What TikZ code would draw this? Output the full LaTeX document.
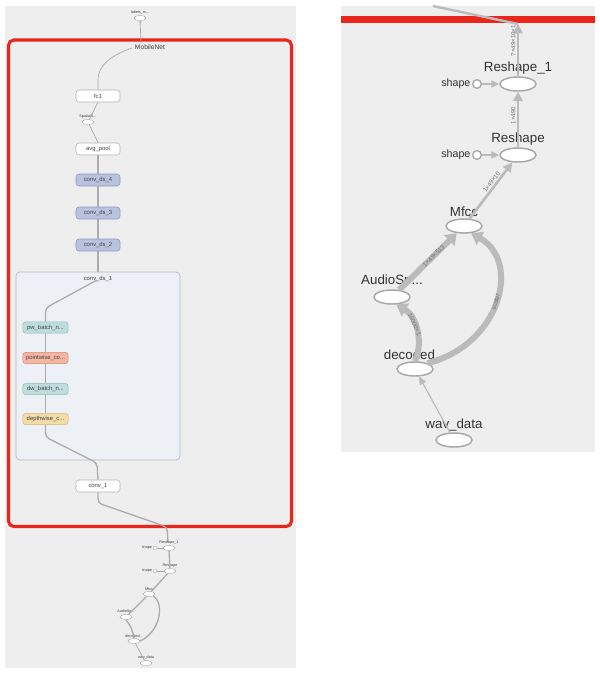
\documentclass[tikz,border=0pt]{standalone}
\usepackage{fontspec}
\setmainfont{Liberation Sans}
\usetikzlibrary{arrows.meta,shapes.geometric,positioning}

\definecolor{panelgray}{HTML}{EEEEEE}
\definecolor{redframe}{HTML}{E8261B}
\definecolor{edgegray}{HTML}{BBBBBB}
\definecolor{opborder}{HTML}{A8A8A8}
\definecolor{metafill}{HTML}{B9C3DE}
\definecolor{metadraw}{HTML}{8D99C2}
\definecolor{bnfill}{HTML}{BEDDDC}
\definecolor{bndraw}{HTML}{8FBFBD}
\definecolor{convfill}{HTML}{F5B6A1}
\definecolor{convdraw}{HTML}{D98B72}
\definecolor{dwfill}{HTML}{F3DCA8}
\definecolor{dwdraw}{HTML}{D4B774}
\definecolor{groupfill}{HTML}{EDF1F6}
\definecolor{groupdraw}{HTML}{B3B8C0}

\begin{document}
\begin{tikzpicture}[x=0.75pt, y=-0.75pt,
	boxtext/.style={font=\fontsize{4.4}{5}\selectfont, text=black!75, inner sep=0.5pt},
	tbox/.style={boxtext, rounded corners=2.2pt, minimum width=33pt, minimum height=9pt, line width=0.4pt},
	plainbox/.style={tbox, fill=white, draw=gray!60},
	metabox/.style={tbox, fill=metafill, draw=metadraw},
	subbox/.style={tbox, minimum width=34pt, minimum height=8.5pt},
	tinyop/.style={ellipse, draw=gray!65, fill=white, line width=0.3pt, minimum width=9pt, minimum height=3.7pt, inner sep=0pt},
	tinydot/.style={circle, draw=gray!65, fill=white, line width=0.3pt, minimum size=3pt, inner sep=0pt},
	tinylbl/.style={font=\fontsize{2.8}{3}\selectfont, text=black!75, inner sep=0.4pt},
	ledge/.style={draw=gray!70, line width=0.5pt},
	lthick/.style={draw=gray!65, line width=1pt},
	bigop/.style={ellipse, draw=opborder, fill=white, line width=1.1pt, minimum width=27pt, minimum height=10.5pt, inner sep=0pt},
	shapeop/.style={circle, draw=opborder, fill=white, line width=1pt, minimum size=6.5pt, inner sep=0pt},
	biglbl/.style={font=\fontsize{10}{12}\selectfont, text=black!80, inner sep=1pt},
	shapelbl/.style={font=\fontsize{8}{10}\selectfont, text=black!80, inner sep=1pt},
	thinedge/.style={draw=edgegray, line width=0.9pt, -{Triangle[width=5.5pt,length=6pt]}},
	midedge/.style={draw=edgegray, line width=2pt, -{Triangle[width=7pt,length=7pt]}},
	thickedge/.style={draw=edgegray, line width=4.5pt, -{Triangle[width=11pt,length=8pt]}},
	elbl/.style={font=\fontsize{4.6}{5}\selectfont, text=black!55, sloped, inner sep=1pt}]

	\useasboundingbox (0,0) rectangle (600,676);
	\fill[white] (0,0) rectangle (600,676);

	% left panel: whole graph
	\fill[panelgray] (5,6) rectangle (296,668);
	\draw[redframe, line width=2.3pt, rounded corners=4pt] (8.5,40) rectangle (291.5,526.5);
	\node[boxtext, font=\fontsize{5}{6}\selectfont] (mobilenet) at (150,47) {MobileNet};
	\coordinate (mnout) at (141,43);
	\coordinate (mnin) at (132,48);
	\node[tinyop, label={[tinylbl]above:labels\_m...}] (labelsop) at (140,18) {};

	\node[plainbox] (fcone) at (98,96) {fc1};
	\node[tinyop, label={[tinylbl]above:SpatialS...}] (squeeze) at (88,122) {};
	\node[plainbox] (avgpool) at (98,149) {avg\_pool};
	\foreach \n/\y in {4/180, 3/213, 2/245} {
		\node[metabox] (convds\n) at (98,\y) {conv\_ds\_\n};
	}

	% conv_ds_1 expanded
	\draw[fill=groupfill, draw=groupdraw, line width=0.5pt, rounded corners=3pt] (16,272) rectangle (180,460);
	\node[boxtext] (grouplbl) at (98,279) {conv\_ds\_1};
	\node[subbox, fill=bnfill, draw=bndraw] (pwbatch) at (45.5,327.5) {pw\_batch\_n...};
	\node[subbox, fill=convfill, draw=convdraw] (pointwise) at (45.5,358) {pointwise\_co...};
	\node[subbox, fill=bnfill, draw=bndraw] (dwbatch) at (45.5,389) {dw\_batch\_n...};
	\node[subbox, fill=dwfill, draw=dwdraw] (depthwise) at (45.5,419) {depthwise\_c...};
	\node[plainbox] (convone) at (98,486) {conv\_1};

	\foreach \s/\t in {depthwise/dwbatch, dwbatch/pointwise, pointwise/pwbatch, convds2/convds3, convds3/convds4, convds4/avgpool} {
		\draw[lthick] (\s) -- (\t);
	}
	\draw[ledge] (avgpool.north) -- (squeeze);
	\draw[ledge] (squeeze) -- (fcone.south);
	\draw[ledge] (fcone.north) -- (98,80) .. controls (98,62) and (118,53) .. (mnin);
	\draw[ledge, -{Triangle[width=1.5pt,length=1.5pt]}] (mnout) -- (labelsop);
	\draw[lthick, rounded corners=3pt] (pwbatch.north) -- (45.5,308) -- (97,280);
	\draw[lthick] (98,272) -- (convds2.south);
	\draw[lthick, rounded corners=3pt] (depthwise.south) -- (45.5,437) -- (97,463) -- (convone.north);
	\draw[lthick, rounded corners=3pt] (convone.south) -- (98,503) -- (167,527) -- (168,542);

	% left panel: input ops
	\node[tinyop, label={[tinylbl]above:Reshape\_1}] (reshapeoneL) at (169,548) {};
	\node[tinydot, label={[tinylbl]left:shape}] (shapeoneL) at (155,548) {};
	\node[tinyop, label={[tinylbl]above:Reshape}] (reshapeL) at (170,571) {};
	\node[tinydot, label={[tinylbl]left:shape}] (shapetwoL) at (155,571) {};
	\node[tinyop, label={[tinylbl]above:Mfcc}] (mfccL) at (149,594) {};
	\node[tinyop, label={[tinylbl]above:AudioSp...}] (audiospL) at (126,617) {};
	\node[tinyop, label={[tinylbl]above:decoded...}] (decodedL) at (134,641) {};
	\node[tinyop, label={[tinylbl]above:wav\_data}] (wavL) at (146,663) {};
	\foreach \s/\t in {shapeoneL/reshapeoneL, shapetwoL/reshapeL, wavL/decodedL} {
		\draw[ledge] (\s) -- (\t);
	}
	\draw[lthick] (reshapeL) -- (reshapeoneL);
	\draw[lthick] (mfccL) -- (reshapeL);
	\draw[lthick] (audiospL) -- (mfccL);
	\draw[lthick] (decodedL.north) .. controls (133,630) and (130,625) .. (audiospL.south);
	\draw[lthick] (decodedL.east) .. controls (160,632) and (165,604) .. (mfccL.south east);

	% right panel: zoom on the input ops
	\fill[panelgray] (341,6) rectangle (595,452);
	\fill[redframe] (341,16) rectangle (595,23);
	\coordinate (entryR) at (518,24);
	\node[bigop, label={[biglbl]above:Reshape\_1}] (reshapeoneR) at (518,84) {};
	\node[shapeop, label={[shapelbl]left:shape}] (shapeoneR) at (477,84) {};
	\node[bigop, label={[biglbl]above:Reshape}] (reshapeR) at (518,155) {};
	\node[shapeop, label={[shapelbl]left:shape}] (shapetwoR) at (477,155) {};
	\node[bigop, label={[biglbl]above:Mfcc}] (mfccR) at (464,226) {};
	\node[bigop, label={[biglbl]above:AudioSp...}] (audiospR) at (392,297) {};
	\node[bigop, label={[biglbl]above:decoded...}] (decodedR) at (415,369) {};
	\node[bigop, label={[biglbl]above:wav\_data}] (wavR) at (454,440) {};

	\draw[draw=edgegray, line width=1.8pt] (entryR) -- (433,6);
	\draw[midedge] (reshapeoneR) -- (entryR) node[elbl, pos=0.68, above] {?×49×10×1};
	\draw[midedge] (reshapeR) -- (reshapeoneR) node[elbl, pos=0.57, above] {1×490};
	\draw[midedge] (mfccR) -- (reshapeR) node[elbl, pos=0.6, above] {1×49×10};
	\draw[thinedge] (shapeoneR) -- (reshapeoneR);
	\draw[thinedge] (shapetwoR) -- (reshapeR);
	\draw[thickedge] (audiospR) -- (mfccR) node[elbl, pos=0.6] {1×49×513};
	\draw[thickedge] (decodedR.north) .. controls (424,340) and (416,316) .. node[elbl, pos=0.58] {16000×1} (audiospR.-60);
	\draw[thickedge] (decodedR.25) .. controls (500,345) and (522,262) .. node[elbl] {scalar} (mfccR.-45);
	\draw[thinedge] (wavR) -- (decodedR);
\end{tikzpicture}
\end{document}
